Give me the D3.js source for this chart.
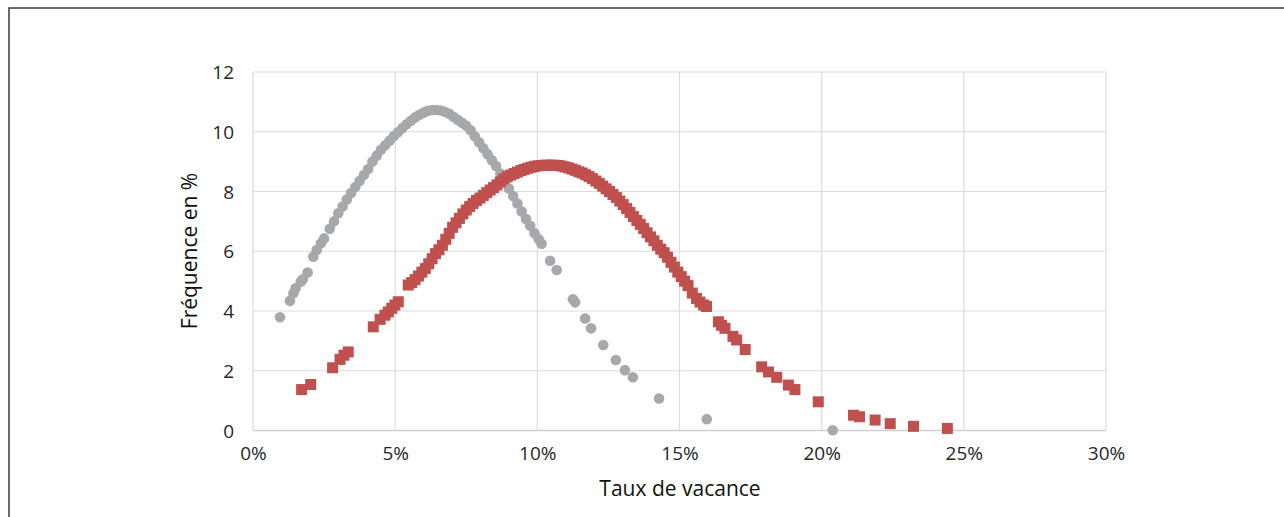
<!DOCTYPE html>
<html>
<head>
<meta charset="utf-8">
<script src="https://cdn.jsdelivr.net/npm/d3@7"></script>
<style>
  body { margin: 0; background: #fff; }
  svg { display: block; font-family: "Open Sans", "Noto Sans", sans-serif; }
</style>
</head>
<body>
<div id="chart"></div>
<script>
var width = 1284,
  height = 517;

// GREY SERIES (circles) - taux de vacance (%) / frequence (%)
var greyX = [0.95, 1.30, 1.42, 1.50, 1.68, 1.75, 1.92, 2.12, 2.24, 2.39,
  2.50, 2.70, 2.85, 3.00, 3.15, 3.30, 3.45, 3.60, 3.75, 3.90,
  4.05, 4.20, 4.35, 4.50, 4.65, 4.80, 4.95, 5.10, 5.25, 5.40,
  5.55, 5.70, 5.85, 6.00, 6.15, 6.30, 6.45, 6.60, 6.75, 6.90,
  7.05, 7.20, 7.35, 7.50, 7.65, 7.80, 7.95, 8.10, 8.25, 8.40,
  8.55, 8.70, 8.85, 9.00, 9.15, 9.30, 9.45, 9.60, 9.75, 9.90,
  10.05, 10.15, 10.45, 10.68, 11.25, 11.33, 11.68, 11.89, 12.32, 12.76,
  13.08, 13.36, 14.28, 15.96, 20.39];
var greyY = [3.79, 4.34, 4.59, 4.76, 4.98, 5.06, 5.29, 5.82, 6.04, 6.27,
  6.43, 6.75, 7.00, 7.27, 7.50, 7.73, 7.95, 8.15, 8.35, 8.55,
  8.75, 9.00, 9.20, 9.40, 9.55, 9.70, 9.85, 9.98, 10.12, 10.25,
  10.37, 10.48, 10.57, 10.64, 10.70, 10.73, 10.73, 10.71, 10.67, 10.60,
  10.50, 10.40, 10.30, 10.20, 10.05, 9.85, 9.65, 9.45, 9.25, 9.05,
  8.85, 8.60, 8.35, 8.10, 7.85, 7.60, 7.33, 7.08, 6.85, 6.60,
  6.40, 6.25, 5.68, 5.37, 4.39, 4.29, 3.75, 3.42, 2.86, 2.36,
  2.02, 1.78, 1.07, 0.38, 0.01];

// RED SERIES (squares)
var redX = [1.71, 2.03, 2.80, 3.06, 3.20, 3.35, 4.23, 4.47, 4.64, 4.76,
  4.88, 4.99, 5.11, 5.46, 5.58, 5.70, 5.82, 5.94, 6.06, 6.18,
  6.30, 6.42, 6.54, 6.66, 6.78, 6.90, 7.02, 7.14, 7.26, 7.38,
  7.50, 7.62, 7.74, 7.86, 7.98, 8.10, 8.22, 8.34, 8.46, 8.58,
  8.70, 8.82, 8.94, 9.06, 9.18, 9.30, 9.42, 9.54, 9.66, 9.78,
  9.90, 10.02, 10.14, 10.26, 10.38, 10.50, 10.62, 10.74, 10.86, 10.98,
  11.10, 11.22, 11.34, 11.46, 11.58, 11.70, 11.82, 11.94, 12.06, 12.18,
  12.30, 12.42, 12.54, 12.66, 12.78, 12.90, 13.02, 13.14, 13.26, 13.38,
  13.50, 13.62, 13.74, 13.86, 13.98, 14.10, 14.22, 14.34, 14.46, 14.58,
  14.70, 14.82, 14.94, 15.06, 15.18, 15.30, 15.45, 15.60, 15.72, 15.85,
  15.95, 16.37, 16.48, 16.60, 16.88, 17.01, 17.31, 17.89, 18.13, 18.42,
  18.83, 19.06, 19.88, 21.12, 21.33, 21.88, 22.41, 23.23, 24.42];
var redY = [1.37, 1.54, 2.10, 2.38, 2.52, 2.63, 3.47, 3.72, 3.86, 3.97,
  4.09, 4.20, 4.31, 4.87, 4.95, 5.05, 5.17, 5.30, 5.42, 5.58,
  5.75, 5.92, 6.05, 6.20, 6.40, 6.60, 6.80, 6.95, 7.10, 7.25,
  7.38, 7.50, 7.60, 7.70, 7.78, 7.87, 7.96, 8.05, 8.13, 8.22,
  8.32, 8.42, 8.49, 8.55, 8.60, 8.65, 8.70, 8.74, 8.78, 8.81,
  8.84, 8.86, 8.87, 8.88, 8.88, 8.88, 8.88, 8.87, 8.85, 8.82,
  8.79, 8.75, 8.71, 8.66, 8.62, 8.56, 8.50, 8.43, 8.35, 8.27,
  8.18, 8.09, 8.00, 7.90, 7.80, 7.68, 7.56, 7.43, 7.30, 7.16,
  7.03, 6.90, 6.76, 6.62, 6.48, 6.35, 6.20, 6.07, 5.95, 5.80,
  5.63, 5.47, 5.30, 5.15, 5.00, 4.85, 4.60, 4.42, 4.30, 4.20,
  4.15, 3.64, 3.52, 3.42, 3.15, 3.03, 2.71, 2.13, 1.96, 1.78,
  1.52, 1.37, 0.96, 0.51, 0.46, 0.35, 0.23, 0.14, 0.07];

var xTicks = [0, 5, 10, 15, 20, 25, 30];
var yTicks = [0, 2, 4, 6, 8, 10, 12];
var xTitle = 'Taux de vacance';
var yTitle = 'Fréquence en %';

var svg = d3.select('#chart')
  .append('svg')
  .attr('width', width)
  .attr('height', height);

// outer frame
svg.append('rect')
  .attr('x', 9)
  .attr('y', 8)
  .attr('width', width + 20)
  .attr('height', height + 20)
  .attr('fill', 'none')
  .attr('stroke', '#3a3a3a')
  .attr('stroke-width', 1.5);

var x = d3.scaleLinear().domain([0, 30]).range([253, 1106]);
var y = d3.scaleLinear().domain([0, 12]).range([430.5, 72]);

// grid
svg.append('g')
  .selectAll('line')
  .data(yTicks)
  .join('line')
  .attr('x1', x(0))
  .attr('x2', x(30))
  .attr('y1', d => y(d))
  .attr('y2', d => y(d))
  .attr('stroke', d => d === 0 ? '#cfcfcf' : '#dcdcdc')
  .attr('stroke-width', d => d === 0 ? 1.6 : 1.2);

svg.append('g')
  .selectAll('line')
  .data(xTicks)
  .join('line')
  .attr('x1', d => x(d))
  .attr('x2', d => x(d))
  .attr('y1', y(0))
  .attr('y2', y(12))
  .attr('stroke', '#dcdcdc')
  .attr('stroke-width', 1.2);

// axes (labels only)
var xAxis = svg.append('g')
  .attr('transform', 'translate(0,' + (y(0) + 10) + ')')
  .call(d3.axisBottom(x).tickValues(xTicks).tickSize(0).tickFormat(d => d + '%'));
var yAxis = svg.append('g')
  .attr('transform', 'translate(' + (x(0) - 19) + ',0)')
  .call(d3.axisLeft(y).tickValues(yTicks).tickSize(0).tickFormat(d => d));
[xAxis, yAxis].forEach(function(a) {
  a.select('.domain').remove();
  a.selectAll('text')
    .attr('fill', '#262626')
    .style('font-size', '19px')
    .style('font-family', '"Open Sans", sans-serif');
});
xAxis.selectAll('text').attr('dy', '0.85em');
yAxis.selectAll('text').attr('x', 0).attr('dy', '0.35em');

// titles
svg.append('text')
  .attr('x', 680)
  .attr('y', 496)
  .attr('text-anchor', 'middle')
  .attr('fill', '#111')
  .style('font-size', '21px')
  .text(xTitle);

svg.append('text')
  .attr('transform', 'translate(197,251) rotate(-90)')
  .attr('text-anchor', 'middle')
  .attr('fill', '#111')
  .style('font-size', '21px')
  .text(yTitle);

// grey circles
svg.append('g')
  .selectAll('circle')
  .data(d3.range(greyX.length))
  .join('circle')
  .attr('cx', i => x(greyX[i]))
  .attr('cy', i => y(greyY[i]))
  .attr('r', 5.3)
  .attr('fill', '#a6a8ab');

// red squares
var sq = 11;
svg.append('g')
  .selectAll('rect')
  .data(d3.range(redX.length))
  .join('rect')
  .attr('x', i => x(redX[i]) - sq / 2)
  .attr('y', i => y(redY[i]) - sq / 2)
  .attr('width', sq)
  .attr('height', sq)
  .attr('fill', '#c0504d');
</script>
</body>
</html>
